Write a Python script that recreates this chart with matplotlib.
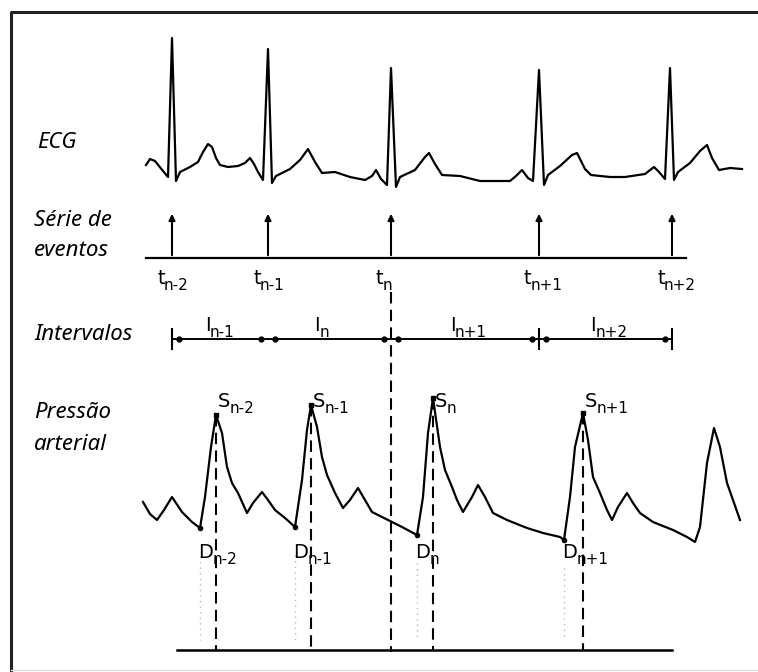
import numpy as np
from matplotlib import pyplot as plt

# everything is in picture pixels (x right, y down)
ecg_x = [146, 150, 155, 163, 168, 172, 176, 180, 190, 198, 203, 208, 212, 216, 220, 228, 238, 245, 250,
         254, 258, 263, 268, 272, 276, 290, 300, 308, 315, 322, 335, 350, 365, 372, 376, 381, 387, 391,
         396, 400, 415, 425, 429, 435, 442, 460, 480, 510, 516, 522, 528, 533, 539, 544, 548, 560, 572,
         577, 585, 591, 610, 625, 645, 654, 659, 665, 670, 674, 678, 690, 700, 707, 712, 719, 730, 742]
ecg_y = [165, 159, 161, 171, 177, 38, 181, 172, 167, 162, 152, 144, 147, 158, 165, 167, 166, 163, 158,
         164, 172, 180, 49, 183, 176, 169, 160, 149, 162, 173, 172, 177, 180, 176, 170, 179, 185, 68,
         187, 177, 170, 157, 153, 164, 175, 176, 181, 181, 176, 170, 178, 181, 70, 185, 175, 166, 155,
         153, 169, 175, 177, 177, 174, 167, 172, 179, 68, 180, 172, 163, 151, 145, 158, 170, 168, 169]

beat_t = [172, 268, 391, 539, 672]
t_labels = ['n-2', 'n-1', 'n', 'n+1', 'n+2']
int_labels = ['n-1', 'n', 'n+1', 'n+2']

bp_x = [143, 150, 157, 164, 172, 182, 192, 200, 205, 211, 216, 222, 227, 232, 238, 247, 253, 262, 268,
        275, 285, 295, 302, 307, 311, 317, 322, 327, 335, 343, 350, 358, 365, 372, 388, 402, 417, 423,
        428, 433, 440, 445, 452, 457, 463, 472, 478, 485, 493, 507, 527, 543, 560, 564, 570, 575, 583,
        588, 593, 600, 607, 612, 618, 627, 633, 640, 653, 673, 687, 695, 700, 707, 714, 720, 727, 733, 740]
bp_y = [502, 514, 520, 510, 497, 512, 522, 528, 497, 447, 415, 433, 467, 483, 493, 513, 503, 492, 500,
        510, 518, 527, 480, 430, 405, 427, 457, 475, 493, 508, 500, 488, 500, 512, 520, 527, 535, 497,
        433, 398, 447, 470, 487, 500, 512, 497, 485, 497, 513, 520, 528, 533, 537, 540, 497, 447, 413,
        440, 477, 493, 510, 520, 507, 493, 503, 513, 522, 530, 537, 542, 527, 463, 428, 447, 483, 500, 520]

sys_x = [216, 311, 433, 583]
sys_y = [415, 405, 398, 413]
dia_x = [200, 295, 417, 564]
dia_y = [528, 527, 535, 540]
sd_labels = ['n-2', 'n-1', 'n', 'n+1']

fig = plt.figure(figsize=(7.58, 6.72), dpi=100)
ax = fig.add_axes([0, 0, 1, 1])
ax.set_xlim(0, 758)
ax.set_ylim(672, 0)
ax.axis('off')


def sub_label(x, y, main, sub, ha='left'):
    # letter + big, low subscript like the old figure lettering
    t = ax.text(x, y, main, fontsize=14, family='DejaVu Sans', ha=ha, va='baseline')
    ax.annotate(sub, xy=(1, 0), xycoords=t, xytext=(-0.5, -1.5), textcoords='offset points',
                fontsize=11, family='DejaVu Sans', ha='left', va='baseline')


# frame
ax.plot([11, 11, 758], [672, 12, 12], color='#222222', lw=2.2)
ax.plot([11, 758], [670, 670], color='#dddddd', lw=1)

side = dict(fontsize=16, style='italic', family='Noto Sans', color='black', va='center', ha='left')
ax.text(37, 143, 'ECG', **side)
ax.text(34, 220, 'Série de', **side)
ax.text(34, 250, 'eventos', **side)
ax.text(34, 335, 'Intervalos', **side)
ax.text(34, 413, 'Pressão', **side)
ax.text(34, 445, 'arterial', **side)

# ECG trace
ax.plot(ecg_x, ecg_y, color='black', lw=1.6)

# event series
ax.plot([146, 686], [258, 258], color='black', lw=1.6)
for t, s in zip(beat_t, t_labels):
    ax.annotate('', xy=(t, 211), xytext=(t, 258),
                arrowprops=dict(arrowstyle='-|>', color='black', lw=1.5, mutation_scale=9))
    sub_label(t - 15, 284, 't', s)

# intervals
yi = 339
ax.plot([beat_t[0], beat_t[-1]], [yi, yi], color='black', lw=1.4)
for t in [beat_t[0], beat_t[3], beat_t[4]]:
    ax.plot([t, t], [yi - 10, yi + 10], color='black', lw=1.5)
for a, b in zip(beat_t[:-1], beat_t[1:]):
    ax.plot([a + 7, b - 7], [yi, yi], 'o', color='black', ms=3.5)
for a, b, s in zip(beat_t[:-1], beat_t[1:], int_labels):
    sub_label((a + b) / 2 - 15, 331, 'I', s)

# long dashed line through t_n
ax.plot([beat_t[2], beat_t[2]], [292, 652], color='black', lw=1.5, linestyle=(0, (5.5, 3)))

# arterial pressure
ax.plot(bp_x, bp_y, color='black', lw=1.6)
ax.plot(sys_x, sys_y, 's', color='black', ms=3)
ax.plot(dia_x, dia_y, 'o', color='black', ms=3)
for x, y in zip(sys_x, sys_y):
    ax.plot([x, x], [y, 650], color='black', lw=1.5, linestyle=(0, (5.5, 3)))
for x, y in zip(dia_x, dia_y):
    ax.plot([x, x], [y + 28, 640], color='#bbbbbb', lw=1, linestyle=(0, (1, 3)))
for x, s in zip(sys_x, sd_labels):
    sub_label(x + 2, 407, 'S', s)
for x, s in zip(dia_x, sd_labels):
    sub_label(x - 2, 558, 'D', s)

ax.plot([177, 672], [650, 650], color='black', lw=1.8)

fig.savefig('out.png', dpi=100)
